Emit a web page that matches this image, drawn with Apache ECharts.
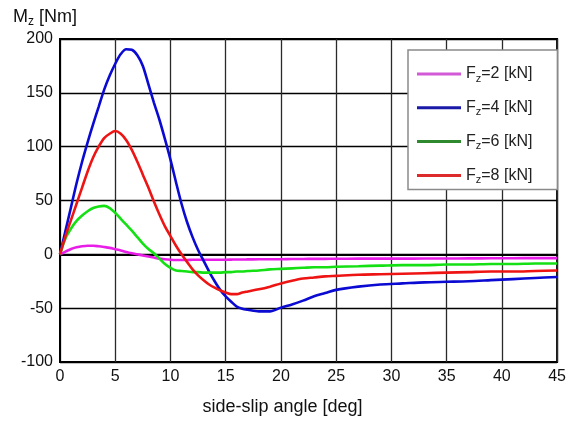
<!DOCTYPE html>
<html>
<head>
<meta charset="utf-8">
<script src="https://cdn.jsdelivr.net/npm/echarts@6/dist/echarts.min.js"></script>
<style>
  html, body { margin: 0; padding: 0; background: #fff; }
  #chart { width: 569px; height: 426px; }
</style>
</head>
<body>
<div id="chart"></div>
<script>
// side-slip angle samples [deg]
const angles = [0, 0.5, 1, 1.5, 2, 2.5, 3, 3.5, 4, 4.5, 5, 5.5, 6, 6.5, 7, 7.5, 8, 8.5, 9, 9.5,
  10, 10.5, 11, 11.5, 12, 12.5, 13, 13.5, 14, 14.5, 15, 15.5, 16, 16.5, 17,
  18, 19, 20, 21, 22, 23, 24, 25, 27, 29, 31, 33, 35, 37, 39, 41, 43, 45];

// self-aligning moment Mz [Nm] for each vertical load
const mzFz2 = [0, 2.5, 5, 6.5, 7.5, 8, 8, 7.5, 6.8, 6, 4.8, 3.6, 2.2, 1, 0, -1, -2, -3, -4, -4.6,
  -5, -5.2, -5.2, -5.2, -5.1, -5, -5, -5, -5, -5, -5, -4.9, -4.8, -4.8, -4.7,
  -4.6, -4.5, -4.5, -4.4, -4.3, -4.2, -4.2, -4.1, -4, -4, -4, -3.9, -3.9, -3.8, -3.7, -3.6, -3.5, -3.5];

const mzFz4 = [0, 22, 44, 66, 86, 104, 121, 137, 153, 166, 177, 186, 190.5, 190, 185, 175, 158, 141, 125, 107,
  88, 67, 47, 30, 16, 4, -6, -16, -25, -33, -39, -44, -48.5, -50.5, -51.5,
  -53, -53, -49.5, -46.5, -43, -39, -36, -33, -30, -28, -27, -26, -25.5, -25, -24, -23, -22, -21];

const mzFz6 = [0, 15, 24, 31, 36, 40, 43, 44.5, 45, 43, 38.5, 33, 27.5, 22, 16, 10, 5, 1, -4, -9,
  -12.5, -15, -15.5, -16, -16.5, -16.5, -17, -17, -17, -17, -16.5, -16.5, -16, -16, -15.5,
  -15, -14, -13.5, -13, -12.5, -12, -12, -11.5, -11, -10.5, -10, -10, -9.5, -9.5, -9, -9, -8.5, -8.5];

const mzFz8 = [0, 17, 32, 47, 62, 77, 90, 100, 108, 112, 114.5, 112, 106, 97, 86, 74, 62, 49, 37, 26,
  17, 8, 0, -7, -14, -19.5, -24, -28, -31, -33.5, -35.5, -37, -37, -35.5, -34.5,
  -32.5, -30, -27, -24.5, -22.5, -21.5, -20.5, -20, -19, -18.5, -18, -17.5, -17, -16.5, -16, -16, -15.5, -15];

const seriesNames = ['Fz=2 [kN]', 'Fz=4 [kN]', 'Fz=6 [kN]', 'Fz=8 [kN]'];
const seriesValues = [mzFz2, mzFz4, mzFz6, mzFz8];
const lineColors = ['#e81ee8', '#0a0ad2', '#14e014', '#ee1414'];
const legendColors = ['#d25ad6', '#1a1aa8', '#2f8a2f', '#dd2a2a'];

const xTicks = { min: 0, max: 45, interval: 5 };
const yTicks = { min: -100, max: 200, interval: 50 };

const FONT = '"Liberation Sans", Arial, sans-serif';

const chart = echarts.init(document.getElementById('chart'), null, { renderer: 'canvas' });

const series = seriesNames.map((name, k) => ({
  name,
  type: 'line',
  data: angles.map((a, i) => [a, seriesValues[k][i]]),
  showSymbol: false,
  symbol: 'none',
  smooth: 0.3,
  lineStyle: { color: lineColors[k], width: 2.6 },
  itemStyle: { color: lineColors[k] },
  animation: false
}));

chart.setOption({
  backgroundColor: '#fff',
  animation: false,
  title: {
    text: '{m|M}{s|z}{m| [Nm]}',
    left: 8,
    top: 1,
    textStyle: {
      fontWeight: 'normal',
      rich: {
        m: { fontFamily: FONT, fontSize: 18, fontWeight: 'normal', color: '#111', lineHeight: 22 },
        s: { fontFamily: FONT, fontSize: 12, fontWeight: 'normal', color: '#111', verticalAlign: 'bottom', lineHeight: 22 }
      }
    }
  },
  grid: {
    left: 60, right: 10.5, top: 39, bottom: 64,
    show: true,
    borderColor: '#000',
    borderWidth: 2,
    backgroundColor: '#fff'
  },
  legend: {
    orient: 'vertical',
    left: 408,
    top: 50,
    padding: [16, 25, 4, 9],
    itemGap: 15.8,
    itemWidth: 44,
    itemHeight: 3,
    icon: 'path://M0,0 L44,0 L44,3 L0,3 Z',
    backgroundColor: '#fff',
    borderColor: '#8a8a8a',
    borderWidth: 1.5,
    borderRadius: 0,
    data: seriesNames.map((name, k) => ({ name, itemStyle: { color: legendColors[k] } })),
    formatter: name => '{n|F}{s|z}{n|' + name.slice(2) + '}',
    textStyle: {
      rich: {
        n: { fontFamily: FONT, fontSize: 16, color: '#222', lineHeight: 20 },
        s: { fontFamily: FONT, fontSize: 11, color: '#222', lineHeight: 20, verticalAlign: 'bottom' }
      }
    }
  },
  xAxis: {
    type: 'value',
    min: xTicks.min, max: xTicks.max, interval: xTicks.interval,
    name: 'side-slip angle [deg]',
    nameLocation: 'middle',
    nameGap: 36,
    nameTextStyle: { fontFamily: FONT, fontSize: 18, color: '#111', padding: [0, 52, 0, 0] },
    axisLine: { show: true, lineStyle: { color: '#000', width: 2 } },
    axisTick: { show: false },
    axisLabel: { fontFamily: FONT, fontSize: 16, color: '#111', margin: 7 },
    splitLine: { show: true, lineStyle: { color: '#2a2a2a', width: 1.3 } }
  },
  yAxis: {
    type: 'value',
    min: yTicks.min, max: yTicks.max, interval: yTicks.interval,
    axisLine: { show: true, lineStyle: { color: '#000', width: 2 } },
    axisTick: { show: false },
    axisLabel: { fontFamily: FONT, fontSize: 16, color: '#111', margin: 7 },
    splitLine: { show: true, lineStyle: { color: '#000', width: 1.3 } }
  },
  series
});
</script>
</body>
</html>
